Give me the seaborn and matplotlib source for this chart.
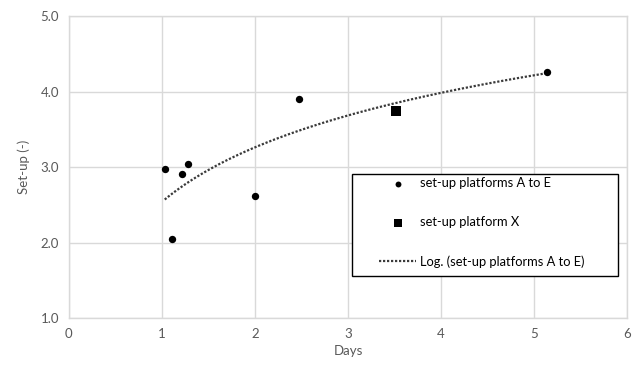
import numpy as np
import pandas as pd
import matplotlib
matplotlib.use("Agg")
import matplotlib.pyplot as plt
from matplotlib.patches import Rectangle
import seaborn as sns

# Data
days_ae = [1.03, 1.11, 1.22, 1.28, 2.00, 2.47, 5.14]
setup_ae = [2.97, 2.05, 2.91, 3.04, 2.62, 3.90, 4.26]
days_x = [3.52]
setup_x = [3.74]

x_ticks = [0, 1, 2, 3, 4, 5, 6]
y_ticks = [1.0, 2.0, 3.0, 4.0, 5.0]

sns.set_theme(style="white")
plt.rcParams['font.family'] = ['Lato', 'DejaVu Sans']

df_ae = pd.DataFrame({"Days": days_ae, "Setup": setup_ae})
df_x = pd.DataFrame({"Days": days_x, "Setup": setup_x})

fig = plt.figure(figsize=(6.38, 3.67), dpi=100)
ax = fig.add_axes([0.108, 0.1335, 0.875, 0.8225])

grid_c = "#d9d9d9"
text_c = "#595959"

# logarithmic trend line (fit on log x)
sns.regplot(data=df_ae, x="Days", y="Setup", logx=True, ci=None, scatter=False,
            ax=ax, label="Log. (set-up platforms A to E)",
            line_kws=dict(color="#3a3a3a", linestyle=(0, (1, 0.8)), linewidth=1.6))

sns.scatterplot(data=df_ae, x="Days", y="Setup", ax=ax, color="black", marker="o",
                s=28, edgecolor="black", linewidth=0, label="set-up platforms A to E", zorder=4)
sns.scatterplot(data=df_x, x="Days", y="Setup", ax=ax, color="black", marker="s",
                s=55, edgecolor="black", linewidth=0, label="set-up platform X", zorder=4)

ax.set_xlim(0, 6)
ax.set_ylim(1.0, 5.0)
ax.set_xticks(x_ticks)
ax.set_xticklabels([str(t) for t in x_ticks])
ax.set_yticks(y_ticks)
ax.set_yticklabels([f"{t:.1f}" for t in y_ticks])
ax.grid(True, color=grid_c, linewidth=1.0)
ax.set_axisbelow(True)
for s in ax.spines.values():
    s.set_color(grid_c)
    s.set_linewidth(1.0)
ax.tick_params(axis="both", colors=text_c, labelsize=9.5, length=0, pad=7)
ax.set_xlabel("Days", color=text_c, fontsize=9.5, labelpad=4)
ax.set_ylabel("Set-up (-)", color=text_c, fontsize=9.5, labelpad=8)

handles, labels = ax.get_legend_handles_labels()
order = ["set-up platforms A to E", "set-up platform X", "Log. (set-up platforms A to E)"]
hmap = dict(zip(labels, handles))
leg = ax.legend([hmap[o] for o in order], order, loc="upper left",
                bbox_to_anchor=(379 / 638, 1 - 177 / 367),
                bbox_transform=fig.transFigure,
                frameon=False, fontsize=9.3,
                labelspacing=2.1, borderpad=0, handlelength=2.9, handletextpad=0.3,
                markerscale=0.8, borderaxespad=0)
for t in leg.get_texts():
    t.set_color("black")

# legend box
box = Rectangle((352 / 638, 1 - 276 / 367), (618 - 352) / 638, (276 - 174) / 367,
                transform=fig.transFigure, facecolor="white", edgecolor="black",
                linewidth=1.0, zorder=5)
ax.add_artist(box)
box.set_clip_on(False)
leg.set_zorder(6)

fig.savefig("out.png", dpi=100)
